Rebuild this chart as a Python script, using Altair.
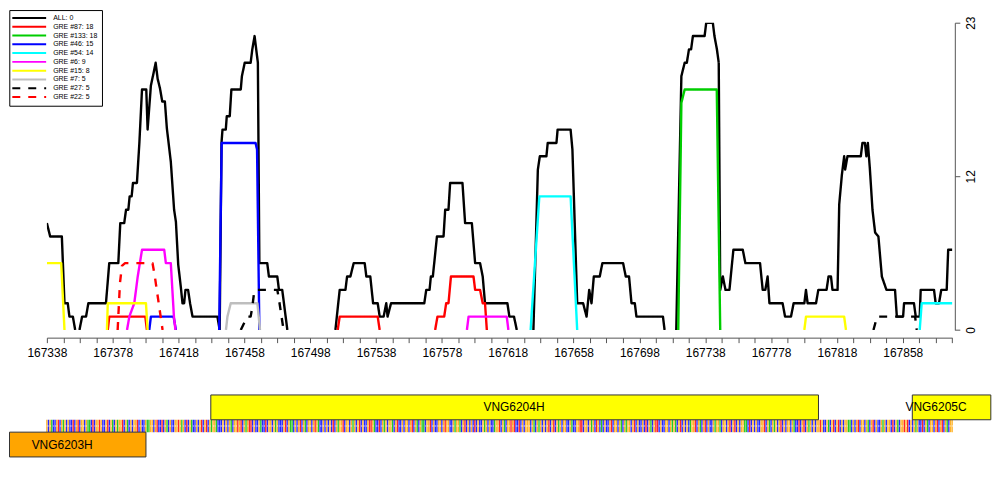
import altair as alt
import pandas as pd

BASE = 167338
X_MIN, X_MAX = 167338, 167888

SERIES = ["ALL: 0", "GRE #87: 18", "GRE #133: 18", "GRE #46: 15", "GRE #54: 14",
          "GRE #6: 9", "GRE #15: 8", "GRE #7: 5", "GRE #27: 5", "GRE #22: 5"]
COLORS = ["#000000", "#FF0000", "#00CD00", "#0000FF", "#00FFFF",
          "#FF00FF", "#FFFF00", "#BEBEBE", "#000000", "#FF0000"]
DASHES = [[1, 0]] * 8 + [[8, 8], [8, 8]]

# (offset from 167338 in bp, count) pairs, one list per drawn segment
ALL_SEGS = [
    [(0, 8), (2.0, 7), (9.1, 7), (10.7, 2), (12.7, 2), (13.7, 1), (15.8, 1), (17.2, 0)],
    [(19.8, 0), (21.4, 1), (23.8, 1), (25.2, 2), (35.9, 2), (37.9, 5), (43.4, 5), (44.6, 8),
     (47.0, 8), (48.1, 9), (49.5, 9), (50.3, 10), (51.5, 10), (52.3, 11), (54.7, 11), (56.2, 14),
     (57.8, 18), (60.4, 18), (61.2, 15), (63.2, 18.3), (64.6, 19.1), (66.1, 20), (67.3, 18.8),
     (68.7, 18.1), (70.1, 17.1), (71.7, 17.1), (72.9, 15.1), (75.3, 12.6), (77.3, 9), (78.4, 8.1),
     (79.8, 4.9), (81.4, 3.2), (82.4, 2), (83.4, 2), (84.2, 3), (85.8, 3), (87.0, 2), (88.5, 1),
     (103.6, 1), (105.0, 0), (106.1, 14), (106.7, 15), (108.7, 15), (109.3, 16), (111.1, 16),
     (112.1, 18), (117.8, 18), (118.5, 19), (120.2, 20), (123.8, 20), (124.8, 21), (126.2, 22),
     (128.2, 20), (129.1, 5), (133.9, 5), (134.9, 4), (140.0, 4), (141.0, 3), (143.0, 3), (146.1, 0)],
    [(175.3, 0), (177.9, 3), (181.4, 3), (182.4, 4), (184.4, 4), (186.4, 5), (193.1, 5), (194.1, 4),
     (196.5, 4), (198.2, 2), (201.0, 2), (202.2, 1), (204.6, 1), (206.2, 2), (207.0, 1), (209.1, 2),
     (229.3, 2), (230.5, 3), (232.5, 3), (233.3, 4), (234.5, 4), (237.0, 7), (241.0, 7), (242.0, 9),
     (244.0, 9), (245.0, 11), (252.5, 11), (254.1, 8), (258.2, 8), (260.2, 5), (263.2, 5),
     (264.8, 4), (266.2, 2), (279.8, 2), (281.0, 1), (283.8, 1), (285.5, 0)],
    [(295.6, 0), (298.3, 12), (299.5, 13), (303.5, 13), (304.3, 14), (309.6, 14), (310.3, 15),
     (318.2, 15), (319.3, 13.5), (322.2, 2), (325.8, 2), (327.9, 1), (329.5, 3), (330.9, 2),
     (332.3, 4), (335.9, 4), (337.5, 5), (350.1, 5), (351.7, 4), (353.7, 4), (355.2, 2), (357.2, 2),
     (358.2, 1), (374.3, 1), (375.3, 0)],
    [(382.4, 0), (385.5, 19), (387.5, 20), (388.8, 20), (390.1, 21), (391.4, 21), (392.5, 22),
     (399.6, 22), (400.6, 23), (404.6, 23), (405.6, 22), (407.1, 21), (408.2, 20), (409.1, 3),
     (410.7, 4), (412.3, 3), (414.7, 3), (417.1, 6), (422.8, 6), (424.4, 5), (433.3, 5), (434.9, 3),
     (436.5, 3), (437.9, 4), (439.0, 2), (447.0, 2), (448.5, 1), (452.1, 1), (453.7, 2), (460.2, 2),
     (461.2, 3), (462.2, 2), (467.3, 2), (468.7, 3), (473.7, 3), (474.9, 4), (476.4, 4), (477.3, 3),
     (480.4, 3), (481.4, 9.4), (483.0, 11.6), (484.4, 13), (485.0, 12), (486.4, 13), (494.5, 13),
     (495.5, 14), (497.0, 14), (497.9, 13), (498.8, 14), (500.0, 12.1), (501.6, 9), (503.2, 7.3),
     (505.2, 7), (507.3, 4), (510.1, 3), (515.3, 3), (516.4, 1), (520.2, 1), (520.8, 2), (526.8, 2),
     (527.9, 1), (530.3, 1), (530.9, 3), (539.0, 3), (540.0, 2), (542.0, 2), (543.4, 3), (546.7, 3),
     (547.6, 6), (550.5, 6)],
]
GRE87_SEGS = [
    [(37.0, 0), (37.9, 1), (59.8, 1), (60.8, 0)],
    [(176.7, 0), (177.9, 1), (201.0, 1), (202.2, 0)],
    [(235.9, 0), (237.3, 1), (241.4, 1), (242.6, 2), (244.0, 2), (245.5, 4), (259.2, 4),
     (260.2, 3), (263.2, 3), (264.8, 2), (266.2, 2), (267.3, 0)],
]
GRE133_SEGS = [[(383.6, 0), (385.5, 17), (387.5, 18), (407.0, 18), (409.1, 0)]]
GRE46_SEGS = [
    [(62.2, 0), (63.2, 1), (77.0, 1), (78.4, 0)],
    [(104.7, 0), (106.2, 14), (126.8, 14), (127.7, 13.5), (129.1, 0)],
]
GRE54_SEGS = [
    [(293.9, 0), (299.2, 10), (318.2, 10), (322.2, 0)],
    [(530.3, 0), (531.5, 2), (550.5, 2)],
]
GRE6_SEGS = [
    [(48.7, 0), (50.1, 1), (53.1, 2), (55.2, 4), (57.8, 6), (71.3, 6), (72.3, 5), (75.3, 5),
     (77.2, 1), (78.1, 0)],
    [(255.2, 0), (256.2, 1), (279.4, 1), (280.4, 0)],
]
GRE15_SEGS = [
    [(0, 5), (8.7, 5), (10.7, 0)],
    [(36.5, 0), (37.0, 2), (60.2, 2), (61.2, 0)],
    [(460.2, 0), (461.2, 1), (484.4, 1), (485.5, 0)],
]
GRE7_SEGS = [[(108.8, 0), (109.7, 1), (111.7, 2), (127.9, 2), (129.5, 0)]]
GRE27_SEGS = [
    [(117.8, 0), (121.8, 1), (123.8, 1), (124.8, 1.7), (125.8, 2.7), (126.8, 3), (140.0, 3),
     (141.0, 2.3), (143.8, 0)],
    [(502.2, 0), (504.4, 1), (527.5, 1), (528.5, 0)],
]
GRE22_SEGS = [[(43.0, 0), (44.4, 3.5), (45.6, 4.8), (47.5, 5), (64.2, 5), (65.6, 4), (70.3, 0)]]

SEGMENTS = [ALL_SEGS, GRE87_SEGS, GRE133_SEGS, GRE46_SEGS, GRE54_SEGS,
            GRE6_SEGS, GRE15_SEGS, GRE7_SEGS, GRE27_SEGS, GRE22_SEGS]

# genes
GENE_NAMES = ["VNG6204H", "VNG6205C", "VNG6203H"]
GENE_START = [167437.6, 167863.8, 167315.3]
GENE_END = [167806.8, 167911.5, 167398.2]
GENE_STRAND = ["+", "+", "-"]
GENE_FILL = ["#FFFF00", "#FFFF00", "#FFA500"]
GENE_LABEL_POS = [167621.8, 167878.2, 167347.3]

SEQ_GROUPS = [
    "GCGACCGTCG", "AGCGCCTCGT", "CGGCGAACTC", "GGTGCCGTCG", "ACGAGGTCGA",
    "CGCGGTCGCC", "GAAGGCGTCC", "TCGACGCCGG", "TGAGCTCGAC", "CGCGTCGTCG",
    "AGGACCCGCG", "CGACGGTGTC", "GAGTTCGCCG", "ACCTCGGCGA", "GCCCGTCGAA",
    "CGCGTCGACG", "GCGTGACCGC", "GCGCTCGAGG", "TCGGCGAGCG", "TCGCCGTTGA",
    "CCTCGAGCGG", "ACGTCCGCGG", "CGTCGACGAA", "CGGTCGCCGG", "CGTGGCCGAG",
    "GACGTCGCGC", "TCGCCGAGCG", "CCAGGTCGAC", "GGTGTCCTCG", "CGGGCGACGA",
    "GCGCGTCGTC", "GAGCGGCCGA", "CCGGTTCGGC", "GAGCTGCACG", "CCGTCGGCGA",
    "CGAGGCGTCG", "CCGCTCGACG", "TTCGCCGGCG", "AGACGTCGCG", "CAGGTCGACG",
    "TCGCCGAGGA", "CGGCGTCGTC", "GCGGAACTCG", "CGCCGGTCGA", "CGAGCGTCGC",
    "GGCGACCTCG", "TCGAGCGCGG", "TGCCGACGTC", "GTCGCGGAAC", "GCGTCGGCGA",
    "CGTCGCCGAG", "CGGCTCGACG", "GTGTCGCGAG", "CCTCGACGGC", "GTCGTCGACG", "G",
]
BASES = ["A", "C", "G", "T"]
BASE_COLORS = ["#00C000", "#0000FF", "#FFA500", "#FF0000"]

FONT = "Liberation Sans"

# ---------- tables ----------
rows = []
for name, segs in zip(SERIES, SEGMENTS):
    for k, seg in enumerate(segs):
        for off, val in seg:
            rows.append({"series": name, "key": f"{name}-{k}", "bp": BASE + off, "value": val})
cov = pd.DataFrame(rows)

seq = "".join(SEQ_GROUPS)[: X_MAX - X_MIN + 1]
seq_df = pd.DataFrame({"bp": [X_MIN + i for i in range(len(seq))], "base": list(seq)})

genes = pd.DataFrame({"name": GENE_NAMES, "start": GENE_START, "end": GENE_END,
                      "strand": GENE_STRAND, "fill": GENE_FILL, "lab": GENE_LABEL_POS})

W = 908.3
H_TOP = 308.3
H_BOT = 62.2

x_scale = alt.Scale(domain=[X_MIN, X_MAX], nice=False, zero=False)
ticks = list(range(X_MIN, X_MAX + 1, 10))

color_scale = alt.Scale(domain=SERIES, range=COLORS)
dash_scale = alt.Scale(domain=SERIES, range=DASHES)

legend = alt.Legend(
    title=None, orient="none", legendX=-37.7, legendY=-12.7,
    symbolType="M-6,0H6", symbolSize=32, symbolStrokeWidth=2,
    labelFont=FONT, labelFontSize=7, labelColor="black",
    padding=4, rowPadding=0.8, labelOffset=20, symbolOffset=12,
    strokeColor="black", fillColor="white", cornerRadius=0,
)

x_enc = alt.X("bp:Q", scale=x_scale, axis=alt.Axis(
    values=ticks, format="d",
    labelExpr="(datum.value - 167338) % 40 == 0 ? datum.label : ''",
    title=None, offset=7.7, tickSize=5, grid=False,
    domainColor="#555555", tickColor="#555555",
    labelFont=FONT, labelFontSize=12, labelColor="black",
    labelPadding=5, labelFlush=False, labelOverlap=False))
y_enc = alt.Y("value:Q", scale=alt.Scale(domain=[0, 23], nice=False), axis=alt.Axis(
    orient="right", values=[0, 11.5, 23],
    labelExpr="datum.value == 11.5 ? '12' : datum.label",
    title=None, offset=2.7, tickSize=5, grid=False,
    domainColor="#555555", tickColor="#555555",
    labelFont=FONT, labelFontSize=12, labelColor="black",
    labelAngle=270, labelAlign="center", labelBaseline="top", labelPadding=6))

layers = []
for name in SERIES:
    layers.append(
        alt.Chart(cov).transform_filter(alt.datum.series == name)
        .mark_line(strokeWidth=2.4, clip=True, strokeJoin="round")
        .encode(x=x_enc, y=y_enc,
                color=alt.Color("series:N", scale=color_scale, legend=legend),
                strokeDash=alt.StrokeDash("series:N", scale=dash_scale, legend=legend),
                detail="key:N", order="bp:Q")
    )
top = alt.layer(*layers).properties(width=W, height=H_TOP)

# bottom track
y_trk = alt.Scale(domain=[0, 2.5], nice=False, zero=False)
bx = alt.X("x1:Q", scale=x_scale, axis=None)
strip = alt.Chart(seq_df).transform_calculate(
    x1="datum.bp - 0.42", x2="datum.bp + 0.42"
).mark_rect(clip=False, opacity=0.85).encode(
    x=bx, x2="x2:Q",
    y=alt.Y(datum=1.0, scale=y_trk, axis=None),
    y2=alt.Y2(datum=1.5),
    color=alt.Color("base:N", scale=alt.Scale(domain=BASES, range=BASE_COLORS), legend=None),
)
# pale centre gap of the letter glyphs (C and G are open in the middle)
strip_gap = alt.Chart(seq_df).transform_filter(
    "datum.base == 'C' || datum.base == 'G'"
).transform_calculate(
    x1="datum.bp - 0.05", x2="datum.bp + 0.42"
).mark_rect(clip=False, color="white", opacity=0.7).encode(
    x=bx, x2="x2:Q",
    y=alt.Y(datum=1.22, scale=y_trk, axis=None),
    y2=alt.Y2(datum=1.28),
)
gene_base = alt.Chart(genes).transform_calculate(
    ylo="datum.strand == '+' ? 1.5 : 0", yhi="datum.strand == '+' ? 2.5 : 1",
    ymid="datum.strand == '+' ? 2.0 : 0.5", x1="datum.start"
)
gene_rects = gene_base.mark_rect(clip=False, stroke="#333333", strokeWidth=1).encode(
    x=bx, x2="end:Q",
    y=alt.Y("ylo:Q", scale=y_trk, axis=None),
    y2="yhi:Q",
    fill=alt.Fill("fill:N", scale=None),
)
gene_text = gene_base.mark_text(clip=False, font=FONT, fontSize=12, color="black").encode(
    x=alt.X("lab:Q", scale=x_scale, axis=None),
    y=alt.Y("ymid:Q", scale=y_trk, axis=None),
    text="name:N",
)
bottom = alt.layer(strip, strip_gap, gene_rects, gene_text).properties(width=W, height=H_BOT)

chart = alt.vconcat(top, bottom, spacing=64.5, bounds="flush").resolve_scale(
    color="independent", strokeDash="independent"
).properties(padding=0, background="white").configure_view(stroke=None)

chart.save("out.html", embed_options={"renderer": "svg", "actions": False})
